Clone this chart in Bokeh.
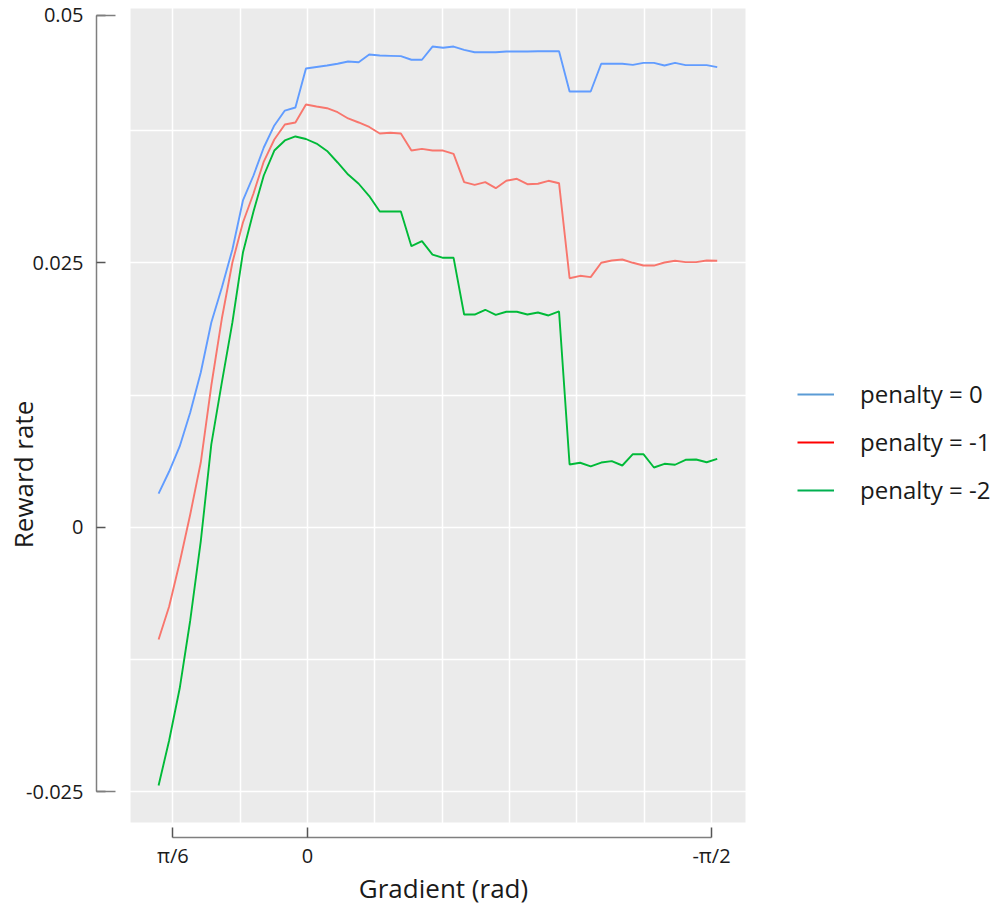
import math
from bokeh.plotting import figure
from bokeh.models import Range1d, FixedTicker, Label, Legend, LegendItem
from bokeh.embed import file_html
from bokeh.resources import INLINE

# ---------------- data ----------------
gradient = [0.579, 0.538, 0.497, 0.456, 0.415, 0.374, 0.333, 0.292, 0.251, 0.210,
            0.170, 0.129, 0.088, 0.047, 0.006, -0.035, -0.076, -0.117, -0.158, -0.199,
            -0.240, -0.281, -0.322, -0.363, -0.404, -0.445, -0.486, -0.527, -0.568, -0.609,
            -0.650, -0.691, -0.732, -0.773, -0.814, -0.855, -0.896, -0.937, -0.978, -1.019,
            -1.060, -1.101, -1.142, -1.183, -1.224, -1.265, -1.306, -1.347, -1.388, -1.429,
            -1.470, -1.511, -1.552, -1.593]

reward_penalty_0 = [0.00321, 0.00529, 0.00766, 0.01087, 0.01465, 0.01938, 0.02268, 0.02628, 0.03091, 0.03327,
                    0.03592, 0.03800, 0.03941, 0.03970, 0.04338, 0.04353, 0.04367, 0.04383, 0.04405, 0.04398,
                    0.04471, 0.04461, 0.04458, 0.04455, 0.04421, 0.04421, 0.04546, 0.04534, 0.04546, 0.04515,
                    0.04492, 0.04492, 0.04492, 0.04499, 0.04499, 0.04499, 0.04502, 0.04502, 0.04502, 0.04121,
                    0.04121, 0.04121, 0.04383, 0.04383, 0.04383, 0.04373, 0.04392, 0.04392, 0.04367, 0.04392,
                    0.04370, 0.04370, 0.04370, 0.04351]

reward_penalty_1 = [-0.01059, -0.00747, -0.00331, 0.00123, 0.00614, 0.01342, 0.01975, 0.02505, 0.02883, 0.03157,
                    0.03459, 0.03667, 0.03809, 0.03828, 0.03998, 0.03979, 0.03963, 0.03925, 0.03866, 0.03828,
                    0.03786, 0.03724, 0.03731, 0.03724, 0.03563, 0.03579, 0.03563, 0.03563, 0.03532, 0.03264,
                    0.03239, 0.03264, 0.03207, 0.03277, 0.03296, 0.03245, 0.03249, 0.03277, 0.03254, 0.02356,
                    0.02379, 0.02366, 0.02502, 0.02524, 0.02533, 0.02502, 0.02476, 0.02476, 0.02505, 0.02521,
                    0.02508, 0.02508, 0.02524, 0.02521]

reward_penalty_2 = [-0.02439, -0.02013, -0.01522, -0.00879, -0.00132, 0.00785, 0.01371, 0.01938, 0.02599, 0.02987,
                    0.03327, 0.03563, 0.03658, 0.03696, 0.03672, 0.03629, 0.03559, 0.03450, 0.03336, 0.03249,
                    0.03133, 0.02987, 0.02987, 0.02987, 0.02659, 0.02706, 0.02580, 0.02549, 0.02549, 0.02013,
                    0.02013, 0.02058, 0.02010, 0.02039, 0.02039, 0.02013, 0.02032, 0.02004, 0.02042, 0.00595,
                    0.00612, 0.00577, 0.00614, 0.00627, 0.00586, 0.00693, 0.00693, 0.00567, 0.00602, 0.00593,
                    0.00640, 0.00643, 0.00617, 0.00649]

series_labels = ["penalty = 0", "penalty = -1", "penalty = -2"]
line_colors = ["#619CFF", "#F8766D", "#00BA38"]
legend_colors = ["#5B9BD5", "#FF0000", "#00B050"]

x_tick_values = [math.pi / 6, 0.0, -math.pi / 2]
x_tick_labels = ["π/6", "0", "-π/2"]
y_tick_values = [-0.025, 0.0, 0.025, 0.0484]
y_tick_labels = ["-0.025", "0", "0.025", "0.05"]
y_axis_ends = [-0.025, 0.0484]
x_grid_values = [math.pi / 6, math.pi / 12, 0.0, -math.pi / 12, -math.pi / 6, -math.pi / 4,
                 -math.pi / 3, -5 * math.pi / 12, -math.pi / 2]
y_grid_values = [-0.025, -0.0125, 0.0, 0.0125, 0.025, 0.0375]

# ---------------- layout constants ----------------
W, H = 994, 907
FONT = "Open Sans"
X_RANGE = (1.19362, -2.67107)          # reversed: gradient decreases to the right
Y_RANGE = (-0.035917, 0.049811)
PANEL = dict(left=0.688, right=-1.703, top=0.049055, bottom=-0.02788)
YAXIS_AT = 0.82037                     # x position of the detached y axis
XAXIS_AT = -0.029301                   # y position of the detached x axis

p = figure(width=W, height=H,
           x_range=Range1d(*X_RANGE), y_range=Range1d(*Y_RANGE),
           output_backend="svg", toolbar_location=None,
           min_border_left=0, min_border_right=0, min_border_top=0, min_border_bottom=0)
p.background_fill_color = "white"
p.border_fill_color = "white"
p.outline_line_color = None

# grey panel
p.quad(left=[PANEL["left"]], right=[PANEL["right"]], top=[PANEL["top"]], bottom=[PANEL["bottom"]],
       fill_color="#EBEBEB", line_color=None, level="image")

# grid
p.xgrid.ticker = FixedTicker(ticks=x_grid_values)
p.ygrid.ticker = FixedTicker(ticks=y_grid_values)
p.xgrid.bounds = (-2.0, 1.0)
p.ygrid.bounds = (-0.03, 0.05)
for g in (p.xgrid, p.ygrid):
    g.grid_line_color = "white"
    g.grid_line_width = 1.5

# axes (detached from the panel, bracket style)
p.xaxis.fixed_location = XAXIS_AT
p.xaxis.ticker = FixedTicker(ticks=x_tick_values)
p.xaxis.major_label_overrides = dict(zip(x_tick_values, x_tick_labels))
p.xaxis.bounds = (-math.pi / 2 - 1e-4, math.pi / 6 + 1e-4)
p.xaxis.major_tick_in = 10
p.xaxis.major_label_standoff = 4
p.xaxis.minor_tick_line_color = None

p.yaxis.fixed_location = YAXIS_AT
p.yaxis.ticker = FixedTicker(ticks=y_tick_values, minor_ticks=y_axis_ends)
p.yaxis.major_label_overrides = dict(zip(y_tick_values, y_tick_labels))
p.yaxis.bounds = (-0.025, 0.0484)
p.yaxis.major_tick_in = 9
p.yaxis.minor_tick_in = 19
p.yaxis.minor_tick_out = 0
p.yaxis.minor_tick_line_color = "#7f7f7f"
p.yaxis.minor_tick_line_width = 1.5
p.yaxis.major_label_standoff = 13

for ax in (p.xaxis, p.yaxis):
    ax.axis_line_color = "#7f7f7f"
    ax.axis_line_width = 1.5
    ax.major_tick_line_color = "#555555"
    ax.major_tick_line_width = 1.5
    ax.major_tick_out = 0
    ax.major_label_text_font = FONT
    ax.major_label_text_font_size = "20px"
    ax.major_label_text_color = "#1a1a1a"

# lines
for ys, c in zip([reward_penalty_0, reward_penalty_1, reward_penalty_2], line_colors):
    p.line(gradient, ys, line_color=c, line_width=1.9)

# legend (sample colours as drawn in the reference legend)
nan = float("nan")
items = []
for lab, c in zip(series_labels, legend_colors):
    r = p.line(x=[nan], y=[nan], line_color=c, line_width=2)
    items.append(LegendItem(label=lab, renderers=[r]))
legend = Legend(items=items, location=(797, 401), orientation="vertical",
                glyph_width=37, glyph_height=32, label_height=32, label_standoff=26,
                spacing=15, padding=0, margin=0,
                border_line_alpha=0, background_fill_alpha=0,
                label_text_font=FONT, label_text_font_size="24px", label_text_color="#1a1a1a")
p.add_layout(legend)

# axis titles
p.add_layout(Label(x=443, y=20, x_units="screen", y_units="screen", text="Gradient (rad)",
                   text_font=FONT, text_font_size="26px", text_align="center",
                   text_baseline="middle", text_color="#1a1a1a"))
p.add_layout(Label(x=22, y=433, x_units="screen", y_units="screen", text="Reward rate",
                   angle=math.pi / 2, text_font=FONT, text_font_size="26px", text_align="center",
                   text_baseline="middle", text_color="#1a1a1a"))

open("out.html", "w").write(file_html(p, INLINE))
